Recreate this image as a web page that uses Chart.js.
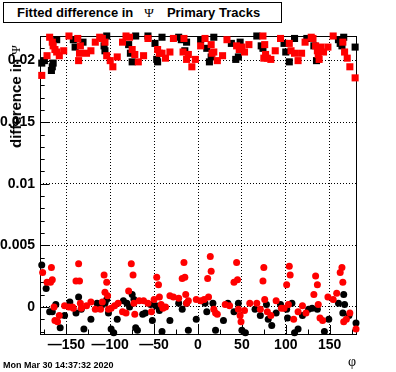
<!DOCTYPE html>
<html>
<head>
<meta charset="utf-8">
<script src="https://cdn.jsdelivr.net/npm/chart.js@4.4.0/dist/chart.umd.min.js"></script>
<style>
  body { margin: 0; background: #fff; }
  #wrap { position: relative; width: 396px; height: 372px; }
  #psiChart { position: absolute; left: 0; top: 0; }
  #title {
    position: absolute; left: 3px; top: 2px; width: 279px; height: 21px;
    box-sizing: border-box; border: 1px solid #000; background: #fff;
    padding-left: 13px; font: bold 13px "Liberation Sans", Arial, sans-serif;
    line-height: 19px; white-space: nowrap;
  }
  .sym { font-family: "Liberation Serif", "DejaVu Serif", serif; font-weight: normal; }
  #ytitle {
    position: absolute; left: 7px; top: 45px; line-height: 16px;
    writing-mode: vertical-rl; transform: rotate(180deg);
    font: bold 15px "Liberation Sans", Arial, sans-serif; white-space: nowrap;
  }
  #stamp {
    position: absolute; left: 3px; top: 359px;
    font: bold 9px "Liberation Sans", Arial, sans-serif; line-height: 12px;
  }
</style>
</head>
<body>
<div id="wrap">
  <canvas id="psiChart" width="396" height="372"></canvas>
  <div id="title">Fitted difference in<span class="sym" style="margin: 0 13px 0 11px;">Ψ</span>Primary Tracks</div>
  <div id="ytitle">difference in <span class="sym" style="font-size: 13px;">Ψ</span></div>
  <div id="stamp">Mon Mar 30 14:37:32 2020</div>
</div>
<script>
// axis ticks
const xTicks = [-150, -100, -50, 0, 50, 100, 150];
const xTickLabels = ['—150', '—100', '—50', '0', '50', '100', '150'];
const yTicks = [0, 0.005, 0.01, 0.015, 0.02];
const yTickLabels = ['0', '0.005', '0.01', '0.015', '0.02'];

// black squares (top band)
const phiBlackSq = [-178, -175, -167, -166, -165, -161, -142, -140, -131, -107, -106, -104, -79, -77, -75, -71,
  -57, -49, -47, -46, -41, -22, -19, -15, -13, 3, 10, 13, 15, 18, 38, 43, 46, 48,
  67, 72, 74, 98, 100, 104, 110, 124, 132, 135, 160, 162, 164, 166, 179];
const psiBlackSq = [0.0198, 0.0200, 0.0192, 0.0195, 0.0198, 0.0217, 0.0217, 0.0211, 0.0215, 0.0212, 0.0208, 0.0220, 0.0213, 0.0206, 0.0199, 0.0220,
  0.0220, 0.0214, 0.0201, 0.0199, 0.0219, 0.0219, 0.0217, 0.0208, 0.0215, 0.0217, 0.0210, 0.0199, 0.0203, 0.0219, 0.0214, 0.0201, 0.0203, 0.0215,
  0.0220, 0.0212, 0.0210, 0.0214, 0.0207, 0.0199, 0.0218, 0.0218, 0.0212, 0.0200, 0.0217, 0.0214, 0.0212, 0.0219, 0.0211];

// red squares (top band)
const phiRedSq = [-178, -172, -169, -166, -165, -163, -161, -158, -153, -147, -137, -136, -135, -134, -127, -122,
  -117, -112, -109, -106, -104, -100, -97, -92, -86, -82, -78, -75, -72, -68, -62, -57,
  -46, -44, -41, -37, -32, -28, -17, -16, -13, -11, -7, -3, 3, 8, 15, 16, 18, 22, 28, 33,
  44, 47, 50, 53, 58, 74, 75, 76, 77, 79, 83, 88, 94, 104, 106, 110, 114, 118, 122,
  129, 131, 134, 136, 137, 138, 140, 143, 148, 154, 165, 167, 170, 173, 179];
const psiRedSq = [0.0188, 0.0204, 0.0219, 0.0215, 0.0212, 0.0209, 0.0207, 0.0204, 0.0208, 0.0220, 0.0218, 0.0200, 0.0206, 0.0212, 0.0206, 0.0208,
  0.0215, 0.0219, 0.0218, 0.0215, 0.0204, 0.0200, 0.0195, 0.0203, 0.0215, 0.0220, 0.0219, 0.0209, 0.0205, 0.0199, 0.0204, 0.0218,
  0.0209, 0.0206, 0.0206, 0.0202, 0.0207, 0.0218, 0.0207, 0.0218, 0.0201, 0.0205, 0.0195, 0.0201, 0.0212, 0.0218, 0.0213, 0.0206, 0.0207, 0.0200, 0.0204, 0.0217,
  0.0212, 0.0209, 0.0211, 0.0207, 0.0213, 0.0220, 0.0202, 0.0213, 0.0205, 0.0202, 0.0201, 0.0208, 0.0218, 0.0214, 0.0208, 0.0206, 0.0200, 0.0206, 0.0215,
  0.0219, 0.0218, 0.0212, 0.0208, 0.0205, 0.0201, 0.0211, 0.0207, 0.0211, 0.0220, 0.0215, 0.0207, 0.0202, 0.0195, 0.0186];

// black circles (near zero)
const phiBlackCirc = [-178, -173, -169, -166, -162, -157, -152, -146, -139, -136, -133, -130, -122, -115, -110, -106,
  -104, -102, -99, -96, -92, -85, -81, -78, -75, -73, -71, -69, -63, -60, -54, -52, -48, -45, -44, -41,
  -32, -22, -18, -13, -11, -2, 8, 10, 17, 20, 29, 34, 41, 46, 50, 54, 65, 71, 78, 80, 84, 89, 94,
  101, 102, 107, 110, 114, 119, 126, 130, 136, 144, 149, 160, 165, 166, 167, 172, 180];
const psiBlackCirc = [0.0034, 0.0015, -0.0004, -0.0004, 0.0002, -0.0017, -0.0007, 0.0004, -0.0005, 0.0008, -0.0002, -0.0018, -0.0010, 0.0003, 0.0001, 0.0003,
  0.0006, -0.0005, -0.0018, -0.0021, -0.0010, 0.0005, 0.0003, 0.0000, 0.0010, 0.0006, -0.0017, -0.0019, -0.0006, -0.0005, 0.0002, -0.0011, 0.0001, 0.0000, -0.0003, -0.0020,
  -0.0011, 0.0003, -0.0002, 0.0003, -0.0019, -0.0010, 0.0003, -0.0004, 0.0003, -0.0019, -0.0011, 0.0003, -0.0004, 0.0003, -0.0019, -0.0021, -0.0002, -0.0007, 0.0002, -0.0010, -0.0015, -0.0005, 0.0002,
  -0.0002, -0.0009, 0.0003, -0.0021, -0.0018, -0.0007, -0.0002, -0.0001, -0.0002, -0.0020, -0.0010, 0.0003, -0.0005, 0.0010, 0.0002, -0.0007, -0.0013];

// red circles (near zero)
const phiRedCirc = [-177, -172, -168, -167, -166, -164, -163, -160, -158, -152, -147, -143, -142, -139, -136, -135,
  -134, -133, -127, -122, -117, -111, -109, -107, -106, -104, -103, -102, -99, -95, -91, -86, -82,
  -79, -76, -74, -73, -72, -67, -62, -57, -53, -50, -47, -45, -44, -42, -40, -37, -32, -28, -22,
  -18, -16, -15, -14, -13, -11, -2, 3, 7, 11, 12, 14, 15, 18, 20, 22, 31, 36, 41, 44, 45, 46, 48, 49, 53, 59,
  67, 71, 74, 75, 76, 79, 83, 89, 95, 98, 101, 103, 104, 105, 109, 114, 119, 123,
  132, 134, 136, 137, 139, 142, 148, 154, 158, 162, 164, 165, 166, 169, 173, 180];
const psiRedCirc = [0.0028, 0.0020, 0.0020, 0.0032, 0.0022, 0.0000, -0.0011, -0.0012, -0.0007, 0.0001, 0.0000, 0.0000, -0.0001, 0.0021, 0.0035, 0.0021,
  0.0003, -0.0001, 0.0001, 0.0004, -0.0002, -0.0002, 0.0004, 0.0026, 0.0012, 0.0020, 0.0009, -0.0002, -0.0001, 0.0001, 0.0003, -0.0004, -0.0005,
  0.0013, 0.0035, 0.0026, 0.0003, -0.0006, 0.0005, 0.0005, 0.0003, -0.0004, 0.0006, 0.0024, 0.0018, 0.0008, 0.0002, -0.0001, 0.0000, 0.0009, 0.0008, 0.0007,
  0.0023, 0.0036, 0.0024, 0.0010, 0.0003, 0.0005, 0.0006, 0.0005, 0.0006, 0.0023, 0.0008, 0.0041, 0.0029, -0.0002, -0.0005, -0.0006, 0.0002, 0.0001, 0.0020, 0.0036, 0.0022, -0.0002, -0.0007, -0.0012, -0.0003, 0.0003,
  0.0003, -0.0002, 0.0021, 0.0032, 0.0006, -0.0004, -0.0007, 0.0005, -0.0001, -0.0001, 0.0018, 0.0002, 0.0033, 0.0026, -0.0010, -0.0004, 0.0001, -0.0005,
  0.0010, 0.0025, 0.0018, 0.0002, -0.0009, -0.0011, 0.0008, 0.0006, 0.0011, 0.0028, 0.0032, 0.0020, -0.0012, -0.0010, -0.0005, -0.0018];

function toPoints(xs, ys) {
  return xs.map((x, i) => ({ x: x, y: ys[i] }));
}

// frame plus inner tick marks, ROOT style
const frameAndTicks = {
  id: 'frameAndTicks',
  beforeDatasetsDraw(chart) {
    const { ctx, chartArea: a, scales: { x, y } } = chart;
    ctx.save();
    ctx.strokeStyle = '#000';
    ctx.lineWidth = 1;
    ctx.beginPath();
    for (let v = -175; v <= 175; v += 25) {
      const px = Math.round(x.getPixelForValue(v)) + 0.5;
      const len = v % 50 === 0 ? 9 : 4.5;
      ctx.moveTo(px, a.bottom);
      ctx.lineTo(px, a.bottom - len);
    }
    for (let i = -2; i <= 22; i++) {
      const py = Math.round(y.getPixelForValue(i / 1000)) + 0.5;
      const len = i % 5 === 0 ? 9.5 : 4.7;
      ctx.moveTo(a.left, py);
      ctx.lineTo(a.left + len, py);
    }
    ctx.stroke();
    ctx.strokeRect(a.left + 0.5, a.top + 0.5, a.right - a.left, a.bottom - a.top);
    ctx.restore();
  }
};

const tickFont = { family: 'Liberation Sans', size: 14, weight: 'bold' };

function makeSet(label, xs, ys, color, style, radius, order) {
  return {
    label: label,
    data: toPoints(xs, ys),
    backgroundColor: color,
    borderWidth: 0,
    pointStyle: style,
    pointRadius: radius,
    pointHoverRadius: radius,
    clip: false,
    order: order
  };
}

const ctx = document.getElementById('psiChart').getContext('2d');
new Chart(ctx, {
  type: 'scatter',
  data: {
    datasets: [
      makeSet('red squares', phiRedSq, psiRedSq, '#ff0000', 'rect', 5, 0),
      makeSet('red circles', phiRedCirc, psiRedCirc, '#ff0000', 'circle', 3.5, 0),
      makeSet('black squares', phiBlackSq, psiBlackSq, '#000000', 'rect', 5, 1),
      makeSet('black circles', phiBlackCirc, psiBlackCirc, '#000000', 'circle', 3.5, 1)
    ]
  },
  options: {
    responsive: false,
    animation: false,
    devicePixelRatio: 1,
    layout: { padding: { left: 0, top: 36, right: 40, bottom: 0 } },
    plugins: { legend: { display: false }, tooltip: { enabled: false } },
    scales: {
      x: {
        type: 'linear',
        min: -180,
        max: 180,
        afterBuildTicks: s => { s.ticks = xTicks.map(v => ({ value: v })); },
        afterFit: s => { s.height = 38; },
        grid: { color: '#000', lineWidth: 1, drawTicks: false },
        border: { display: false, dash: [1, 2] },
        ticks: {
          padding: 3,
          color: '#000',
          font: tickFont,
          autoSkip: false,
          maxRotation: 0,
          callback: (v, i) => xTickLabels[i]
        },
        title: {
          display: true,
          text: 'φ',
          align: 'end',
          color: '#000',
          font: { family: 'Liberation Serif', size: 14 },
          padding: { top: 0, bottom: 1 }
        }
      },
      y: {
        type: 'linear',
        min: -0.0022,
        max: 0.022,
        afterBuildTicks: s => { s.ticks = yTicks.map(v => ({ value: v })); },
        afterFit: s => { s.width = 40; },
        grid: { color: '#000', lineWidth: 1, drawTicks: false },
        border: { display: false, dash: [1, 2] },
        ticks: {
          padding: 5,
          color: '#000',
          font: tickFont,
          autoSkip: false,
          callback: (v, i) => yTickLabels[i]
        }
      }
    }
  },
  plugins: [frameAndTicks]
});
</script>
</body>
</html>
